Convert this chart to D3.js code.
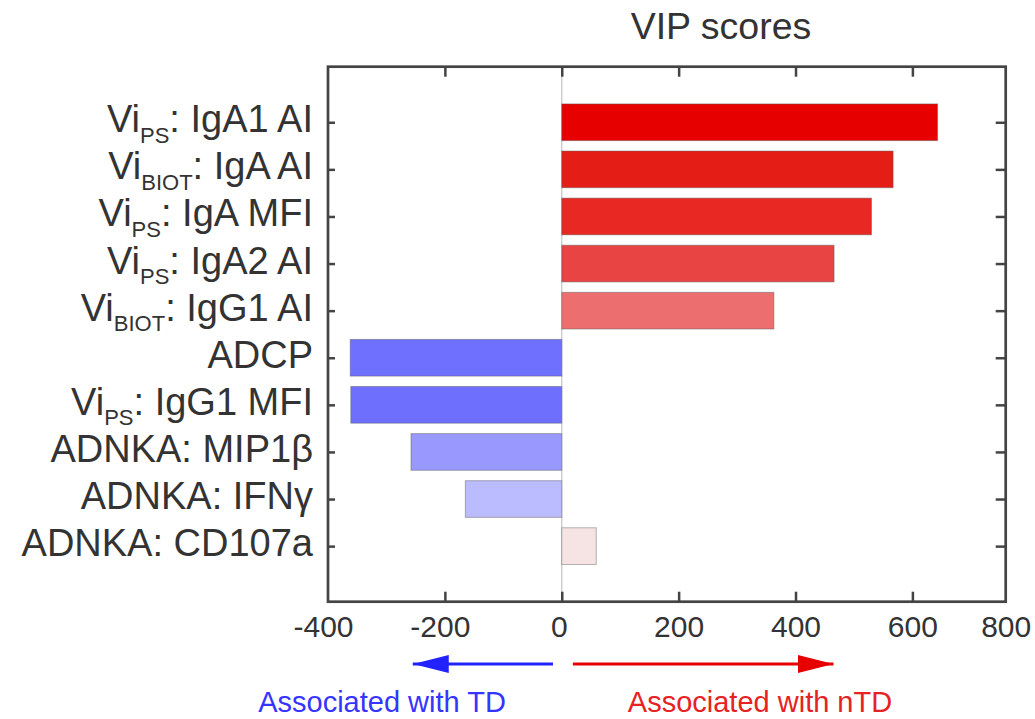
<html>
  <head>
    <script src="https://d3js.org/d3.v7.min.js"></script>
    <style>
      body { margin: 0; background: #fff; }
      text { font-family: "Liberation Sans", Arial, sans-serif; fill: #333; }
      .frame { fill: none; stroke: #444; stroke-width: 2.7px; }
      .tick line { stroke: #444; stroke-width: 2.5px; }
      .bar { stroke: rgba(90, 90, 90, 0.45); stroke-width: 1px; }
    </style>
  </head>
  <body>
    <svg id="chart" width="1035" height="719"></svg>
    <script>
      // labels, subscript written as _{..}
      const categories = [
        "Vi_{PS}: IgA1 AI",
        "Vi_{BIOT}: IgA AI",
        "Vi_{PS}: IgA MFI",
        "Vi_{PS}: IgA2 AI",
        "Vi_{BIOT}: IgG1 AI",
        "ADCP",
        "Vi_{PS}: IgG1 MFI",
        "ADNKA: MIP1β",
        "ADNKA: IFNγ",
        "ADNKA: CD107a"
      ];
      const vipScores = [654, 567, 530, 466, 363, -362, -361, -258, -165, 59];
      const barColors = [
        "#e60000", "#e41e16", "#e72823", "#e84444", "#ec6e6e",
        "#7070ff", "#6f6ffe", "#9898ff", "#bbbbff", "#f6e4e4"
      ];
      const xTicks = [-400, -200, 0, 200, 400, 600, 800];
      // arrow annotations in data units: [from, to]
      const arrowTD = [-15, -255];
      const arrowNTD = [19, 465];

      const svg = d3.select("#chart");
      const plotL = 328, plotR = 1005.7, plotT = 66.7, plotB = 601.7;

      // axis is compressed between 600 and 800 in the original figure
      const x = d3.scaleLinear()
        .domain([-400, 600, 800])
        .range([plotL, 912.4, plotR]);
      const y = d3.scalePoint()
        .domain(d3.range(categories.length))
        .range([plotT, plotB])
        .padding(1.18);
      const barH = 36.7;

      // zero line
      svg.append("line")
        .attr("x1", x(0)).attr("x2", x(0))
        .attr("y1", plotT).attr("y2", plotB)
        .attr("stroke", "#cfcfcf").attr("stroke-width", 1.5);

      svg.selectAll("rect.bar")
        .data(vipScores)
        .join("rect")
        .attr("class", "bar")
        .attr("x", (d) => x(Math.min(0, d)))
        .attr("width", (d) => Math.abs(x(d) - x(0)))
        .attr("y", (d, i) => y(i) - barH / 2)
        .attr("height", barH)
        .attr("fill", (d, i) => barColors[i]);

      const inner = xTicks.filter((t) => t > -400 && t < 800);

      // bottom axis
      const bottomAxis = svg.append("g")
        .attr("transform", `translate(0,${plotB})`)
        .call(d3.axisBottom(x).tickValues(xTicks).tickSize(-10).tickPadding(14).tickFormat((d) => String(d)));
      bottomAxis.select(".domain").remove();
      bottomAxis.selectAll(".tick line").filter((d) => d === -400 || d === 800).remove();
      bottomAxis.selectAll("text").attr("font-size", 30).attr("fill", "#3a3a3a")
        .attr("font-family", "'Liberation Sans', Arial, sans-serif")
        .attr("dx", (d) => (d < 0 ? -5 : d === 0 ? -3 : 0));

      // top ticks
      const topAxis = svg.append("g")
        .attr("transform", `translate(0,${plotT})`)
        .call(d3.axisTop(x).tickValues(inner).tickSize(-10).tickFormat(""));
      topAxis.select(".domain").remove();

      // left axis with labels drawn separately
      const leftAxis = svg.append("g")
        .attr("transform", `translate(${plotL},0)`)
        .call(d3.axisLeft(y).tickSize(-7).tickFormat(""));
      leftAxis.select(".domain").remove();

      const rightAxis = svg.append("g")
        .attr("transform", `translate(${plotR},0)`)
        .call(d3.axisRight(y).tickSize(-10).tickFormat(""));
      rightAxis.select(".domain").remove();

      svg.append("rect")
        .attr("class", "frame")
        .attr("x", plotL).attr("y", plotT)
        .attr("width", plotR - plotL).attr("height", plotB - plotT);

      // category labels with subscripts
      const labels = svg.selectAll("text.cat")
        .data(categories)
        .join("text")
        .attr("class", "cat")
        .attr("x", 313)
        .attr("y", (d, i) => y(i) + 10)
        .attr("text-anchor", "end")
        .attr("font-size", 38);

      labels.each(function (d) {
        const t = d3.select(this);
        const m = d.match(/^(.*?)_\{(.*?)\}(.*)$/);
        if (!m) {
          t.text(d);
          return;
        }
        t.append("tspan").text(m[1]);
        t.append("tspan").attr("font-size", 22).attr("dy", 10.5).text(m[2]);
        t.append("tspan").attr("dy", -10.5).text(m[3]);
      });

      // title
      svg.append("text")
        .attr("x", 721).attr("y", 39)
        .attr("text-anchor", "middle")
        .attr("font-size", 37.5)
        .text("VIP scores");

      // direction arrows
      const defs = svg.append("defs");
      function arrow(id, color, from, to) {
        defs.append("marker")
          .attr("id", id)
          .attr("viewBox", "0 0 12 6")
          .attr("refX", 12).attr("refY", 3)
          .attr("markerWidth", 12).attr("markerHeight", 6)
          .attr("markerUnits", "strokeWidth")
          .attr("orient", "auto")
          .append("path")
          .attr("d", "M0,0 L12,3 L0,6 Z")
          .attr("fill", color);
        svg.append("line")
          .attr("x1", x(from)).attr("x2", x(to))
          .attr("y1", 664).attr("y2", 664)
          .attr("stroke", color).attr("stroke-width", 3)
          .attr("marker-end", `url(#${id})`);
      }
      arrow("blueHead", "#2222ff", arrowTD[0], arrowTD[1]);
      arrow("redHead", "#e60000", arrowNTD[0], arrowNTD[1]);

      svg.append("text")
        .attr("x", 382).attr("y", 712)
        .attr("text-anchor", "middle")
        .attr("font-size", 29)
        .style("fill", "#3535ff")
        .text("Associated with TD");
      svg.append("text")
        .attr("x", 760).attr("y", 712)
        .attr("text-anchor", "middle")
        .attr("font-size", 29)
        .style("fill", "#e62222")
        .text("Associated with nTD");
    </script>
  </body>
</html>
